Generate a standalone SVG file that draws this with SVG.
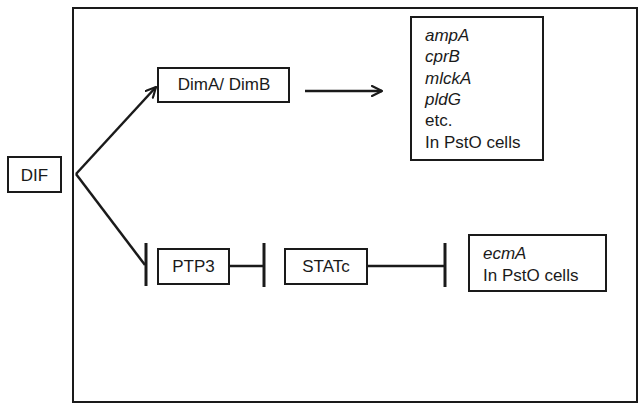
<svg xmlns="http://www.w3.org/2000/svg" width="638" height="407" viewBox="0 0 638 407">
  <defs>
    <marker id="open-arrow" viewBox="0 0 12 12" refX="11" refY="6" markerWidth="12" markerHeight="12" markerUnits="userSpaceOnUse" orient="auto">
      <path d="M1,1 L11,6 L1,11" fill="none" stroke="#1a1a1a" stroke-width="2.2" stroke-linecap="round" stroke-linejoin="round"/>
    </marker>
  </defs>
  <style>
    .box { fill: #ffffff; stroke: #1a1a1a; stroke-width: 2; }
    .frame { fill: none; stroke: #1a1a1a; stroke-width: 2; }
    .link { fill: none; stroke: #1a1a1a; stroke-width: 2.5; }
    .tee { fill: none; stroke: #1a1a1a; stroke-width: 3; }
    text { font-family: "Liberation Sans", Arial, sans-serif; font-size: 17px; fill: #1a1a1a; }
    .mid { text-anchor: middle; }
    .gene { font-style: italic; }
  </style>
  <rect width="638" height="407" fill="#ffffff"/>

  <!-- enclosing frame -->
  <rect class="frame" x="73" y="8" width="564" height="394"/>

  <!-- connectors -->
  <g id="connectors">
    <line class="link" x1="76" y1="174" x2="156" y2="87" marker-end="url(#open-arrow)"/>
    <line class="link" x1="76" y1="174" x2="145" y2="265"/>
    <line class="tee" x1="146" y1="243" x2="146" y2="286"/>
    <line class="link" x1="305" y1="91" x2="382" y2="91" marker-end="url(#open-arrow)"/>
    <line class="link" x1="229" y1="266" x2="264" y2="266"/>
    <line class="tee" x1="264" y1="243" x2="264" y2="287"/>
    <line class="link" x1="367" y1="266" x2="445" y2="266"/>
    <line class="tee" x1="445" y1="243" x2="445" y2="287"/>
  </g>

  <g id="dif">
    <rect class="box" x="8" y="157" width="53" height="35"/>
    <text class="mid" x="34.5" y="181">DIF</text>
  </g>

  <g id="dima-dimb">
    <rect class="box" x="158" y="68" width="131" height="34"/>
    <text class="mid" x="224" y="90">DimA/ DimB</text>
  </g>

  <g id="pst-genes">
    <rect class="box" x="411" y="17" width="132" height="143"/>
    <text class="gene" x="425" y="41">ampA</text>
    <text class="gene" x="425" y="62.3">cprB</text>
    <text class="gene" x="425" y="83.6">mlckA</text>
    <text class="gene" x="425" y="104.9">pldG</text>
    <text x="425" y="126.2">etc.</text>
    <text x="425" y="147.5">In PstO cells</text>
  </g>

  <g id="ptp3">
    <rect class="box" x="158" y="249" width="71" height="35"/>
    <text class="mid" x="193.5" y="272">PTP3</text>
  </g>

  <g id="statc">
    <rect class="box" x="285" y="249" width="82" height="35"/>
    <text class="mid" x="326" y="272">STATc</text>
  </g>

  <g id="ecma">
    <rect class="box" x="469" y="235" width="137" height="56"/>
    <text class="gene" x="483" y="259">ecmA</text>
    <text x="483" y="281">In PstO cells</text>
  </g>
</svg>
